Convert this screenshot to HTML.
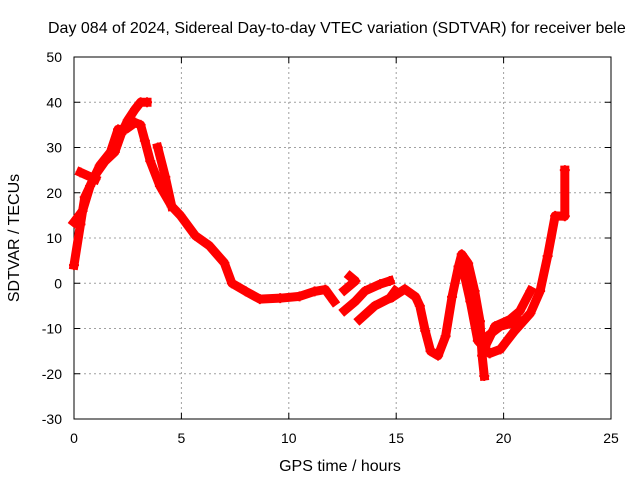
<!DOCTYPE html>
<html><head><meta charset="utf-8"><style>
body{margin:0;background:#fff;width:640px;height:480px;overflow:hidden}
svg{display:block;font-family:"Liberation Sans",sans-serif}
</style></head><body>
<svg id="chart" width="640" height="480">
<text x="48" y="33" font-size="16">Day 084 of 2024, Sidereal Day-to-day VTEC variation (SDTVAR) for receiver bele</text>
<g id="grid"></g>
<g id="axes"></g>
<g id="marks"></g>
<text x="340" y="471" font-size="16" text-anchor="middle">GPS time / hours</text>
<text x="0" y="0" font-size="16" text-anchor="middle" transform="translate(19,238) rotate(-90)">SDTVAR / TECUs</text>
</svg>
<script>
const xTicks=[0,5,10,15,20,25];
const yTicks=[-30,-20,-10,0,10,20,30,40,50];
const tracks=[
 {t:[0,0.3,0.5,1,1.45,1.9,2.2,2.5,2.85,3.1,3.4],v:[4,13,19,24,27,29,33,36,38.5,40,40]},
 {t:[0,0.4,0.75,1.2,1.7,2.05,2.4,2.85,3.1,3.3,3.55,4,4.55,4.95,5.65,6.3,7,7.35,8,8.65,9.6,10.5,11.2,11.7,12.1],
  v:[13.5,16,21.5,26,29,34,34,35.5,35,31.5,27,21.5,17,15,10.5,8.3,4.5,0,-1.8,-3.5,-3.3,-2.9,-1.8,-1.4,-4]},
 {t:[3.9,4.25,4.55],v:[30,23.5,17]},
 {t:[0.3,1],v:[24.5,23]},
 {t:[12.6,13.1,13.55,14.25,14.7],v:[-6,-4,-1.7,-0.2,0.5]},
 {t:[12.6,13.1,12.85],v:[-1.5,0.5,1.5]},
 {t:[13.3,14,14.7,14.95],v:[-8,-5,-3.3,-1.7]},
 {t:[14.85,15.4,15.9,16.1,16.35,16.6,16.95,17.3,17.6,17.9,18.05,18.35,18.65,18.9,19,19.1],
  v:[-3,-1.3,-3,-5,-10.5,-15,-16,-11.7,-3,3.7,6.4,4.4,-1.7,-8.4,-16,-20.5]},
 {t:[18.05,18.45,18.8,19.35,19.85,20.5,21.25,21.7,22.05,22.4,22.85,22.85],
  v:[4.4,-4,-12.7,-15.5,-14.6,-10.6,-6.6,-1.7,6,14.9,14.8,25]},
 {t:[19.15,19.6,20.3,20.75,21.25],v:[-13.9,-9.5,-8,-6.2,-1.7]},
 {t:[19.25,19.85,20.75],v:[-11.7,-9.5,-8.4]}
];
const X0=74,X1=611,Y0=419,Y1=57;
const xs=t=>X0+(t-0)/25*(X1-X0);
const ys=v=>Y0-(v+30)/80*(Y0-Y1);
const NS='http://www.w3.org/2000/svg';
function mk(tag,attrs,parent){const e=document.createElementNS(NS,tag);for(const k in attrs)e.setAttribute(k,attrs[k]);parent.appendChild(e);return e;}
const grid=document.getElementById('grid'),axes=document.getElementById('axes'),marks=document.getElementById('marks');
xTicks.forEach(t=>{
 const x=xs(t);
 if(t>0&&t<25){const g=mk('line',{x1:x,x2:x,y1:Y1,y2:Y0,stroke:'#a0a0a0','stroke-dasharray':'2,3'},grid);
 
 }
 const tl=mk('text',{x:x,y:443,'font-size':14,'text-anchor':'middle'},axes);
 tl.textContent=t;
 
 
 mk('line',{x1:x,x2:x,y1:Y0,y2:Y0-6,stroke:'#000'},axes);
 mk('line',{x1:x,x2:x,y1:Y1,y2:Y1+6,stroke:'#000'},axes);
});
yTicks.forEach(v=>{
 const y=ys(v);
 if(v>-30&&v<50){const g=mk('line',{x1:X0,x2:X1,y1:y,y2:y,stroke:'#a0a0a0','stroke-dasharray':'2,3'},grid);
 
 }
 const tl=mk('text',{x:62,y:y+5,'font-size':14,'text-anchor':'end'},axes);
 tl.textContent=v;
 
 
 mk('line',{x1:X0,x2:X0+6,y1:y,y2:y,stroke:'#000'},axes);
 mk('line',{x1:X1,x2:X1-6,y1:y,y2:y,stroke:'#000'},axes);
});
const frame=mk('rect',{x:X0,y:Y1,width:X1-X0,height:Y0-Y1,fill:'none',stroke:'#000'},axes);


tracks.forEach(tr=>{
 const pts=tr.t.map((t,i)=>xs(t)+','+ys(tr.v[i])).join(' ');
 const pl=mk('polyline',{points:pts,fill:'none',stroke:'#ff0000','stroke-width':9,'stroke-linejoin':'round','stroke-linecap':'square'},marks);
 
 
 tr.t.forEach((t,i)=>{
  const x=xs(t),y=ys(tr.v[i]);
  const p=mk('path',{d:`M${x-5},${y}H${x+5}M${x},${y-5}V${y+5}`,stroke:'#ff0000','stroke-width':2},marks);
  
  
 });
});
</script>
</body></html>
